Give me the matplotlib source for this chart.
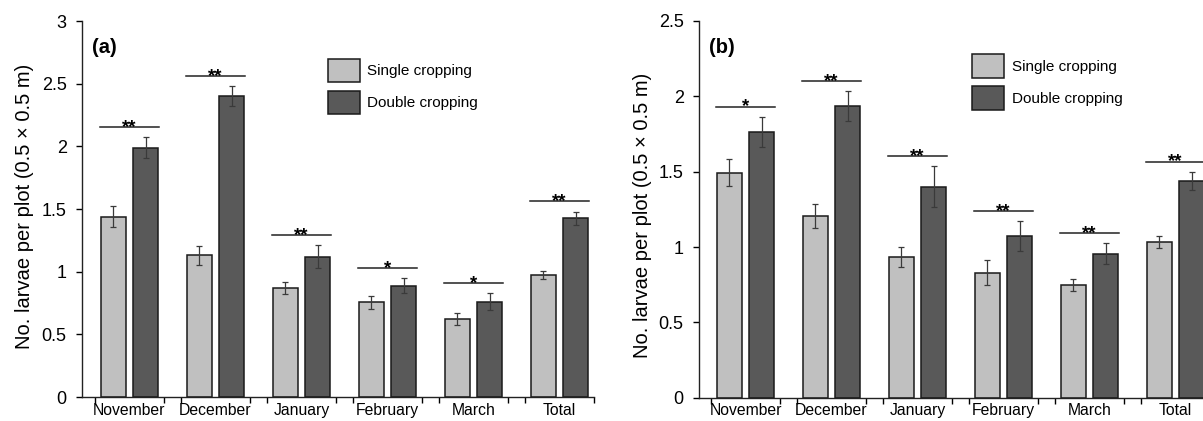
import numpy as np
import matplotlib
matplotlib.use("Agg")
from matplotlib import pyplot as plt

plt.rcParams['font.family'] = ['Liberation Sans', 'DejaVu Sans']

months = ["November", "December", "January", "February", "March", "Total"]

# panel (a)
a_single = [1.44, 1.13, 0.87, 0.755, 0.62, 0.974]
a_single_err = [0.08, 0.075, 0.05, 0.05, 0.048, 0.034]
a_double = [1.99, 2.40, 1.12, 0.886, 0.76, 1.426]
a_double_err = [0.085, 0.08, 0.09, 0.06, 0.067, 0.053]
a_sig = ["**", "**", "**", "*", "*", "**"]

# panel (b)
b_single = [1.493, 1.208, 0.936, 0.83, 0.746, 1.033]
b_single_err = [0.09, 0.08, 0.066, 0.085, 0.04, 0.04]
b_double = [1.765, 1.936, 1.40, 1.073, 0.954, 1.438]
b_double_err = [0.10, 0.10, 0.137, 0.097, 0.07, 0.062]
b_sig = ["*", "**", "**", "**", "**", "**"]

light = "#c0c0c0"
dark = "#595959"
bw = 0.296
off = 0.188

fig = plt.figure(figsize=(12.03, 4.21), dpi=100)


def panel(rect, single, serr, double, derr, sig, ymax, tag, leg_xy, lab_xy, xlim):
    ax = fig.add_axes(rect)
    x = np.arange(len(months))
    ekw = dict(elinewidth=0.9, capthick=0.9, ecolor="#3a3a3a")
    ax.bar(x - off, single, bw, yerr=serr, capsize=2, color=light,
           edgecolor="#1a1a1a", linewidth=1.1, error_kw=ekw, label="Single cropping")
    ax.bar(x + off, double, bw, yerr=derr, capsize=2, color=dark,
           edgecolor="#1a1a1a", linewidth=1.1, error_kw=ekw, label="Double cropping")
    ax.set_xlim(*xlim)
    ax.set_ylim(0, ymax)
    ax.set_yticks(np.arange(0, ymax + 0.01, 0.5))
    ax.set_yticklabels(["%g" % t for t in np.arange(0, ymax + 0.01, 0.5)])
    for s in ["top", "right"]:
        ax.spines[s].set_visible(False)
    for s in ["left", "bottom"]:
        ax.spines[s].set_linewidth(1.0)
        ax.spines[s].set_color("#222222")
    edges = np.concatenate([x - 0.40, x + 0.40])
    ax.set_xticks(edges)
    ax.set_xticklabels([])
    ax.set_xticks(x, minor=True)
    ax.set_xticklabels(months, minor=True)
    ax.tick_params(axis="x", which="major", direction="out", length=4, width=1.0)
    ax.tick_params(axis="x", which="minor", length=0, pad=4, labelsize=11.3)
    ax.tick_params(axis="y", direction="out", length=4, width=1.0, pad=7, labelsize=13)
    ax.set_ylabel("No. larvae per plot (0.5 × 0.5 m)", fontsize=14.5)
    ax.yaxis.set_label_coords(*lab_xy)

    # significance bars
    gap = 0.027 * ymax
    for i in range(len(months)):
        h = max(single[i] + serr[i], double[i] + derr[i]) + gap
        ax.plot([x[i] - 0.34, x[i] + 0.34], [h, h], color="#222222", lw=1.1)
        ax.annotate(sig[i], (x[i], h), xytext=(0, -3.5), textcoords="offset points",
                    ha="center", va="baseline", fontsize=13.5, fontweight="bold")

    ax.text(0.02, 0.955, tag, transform=ax.transAxes, fontsize=14.5,
            fontweight="bold", ha="left", va="top")
    ax.legend(loc="upper left", bbox_to_anchor=leg_xy, frameon=False,
              fontsize=11, handlelength=2.1, handleheight=2.0,
              labelspacing=0.55, handletextpad=0.5, borderpad=0, borderaxespad=0)
    return ax


panel([82 / 1203, 1 - 397 / 421, 512 / 1203, 376 / 421],
      a_single, a_single_err, a_double, a_double_err, a_sig, 3.0, "(a)",
      (0.48, 0.90), (-0.094, 0.508), (-0.552, 5.40))
panel([699 / 1203, 1 - 397.7 / 421, 511 / 1203, 376.7 / 421],
      b_single, b_single_err, b_double, b_double_err, b_sig, 2.5, "(b)",
      (0.534, 0.912), (-0.092, 0.485), (-0.541, 5.40))

fig.savefig("out.png", dpi=100)
